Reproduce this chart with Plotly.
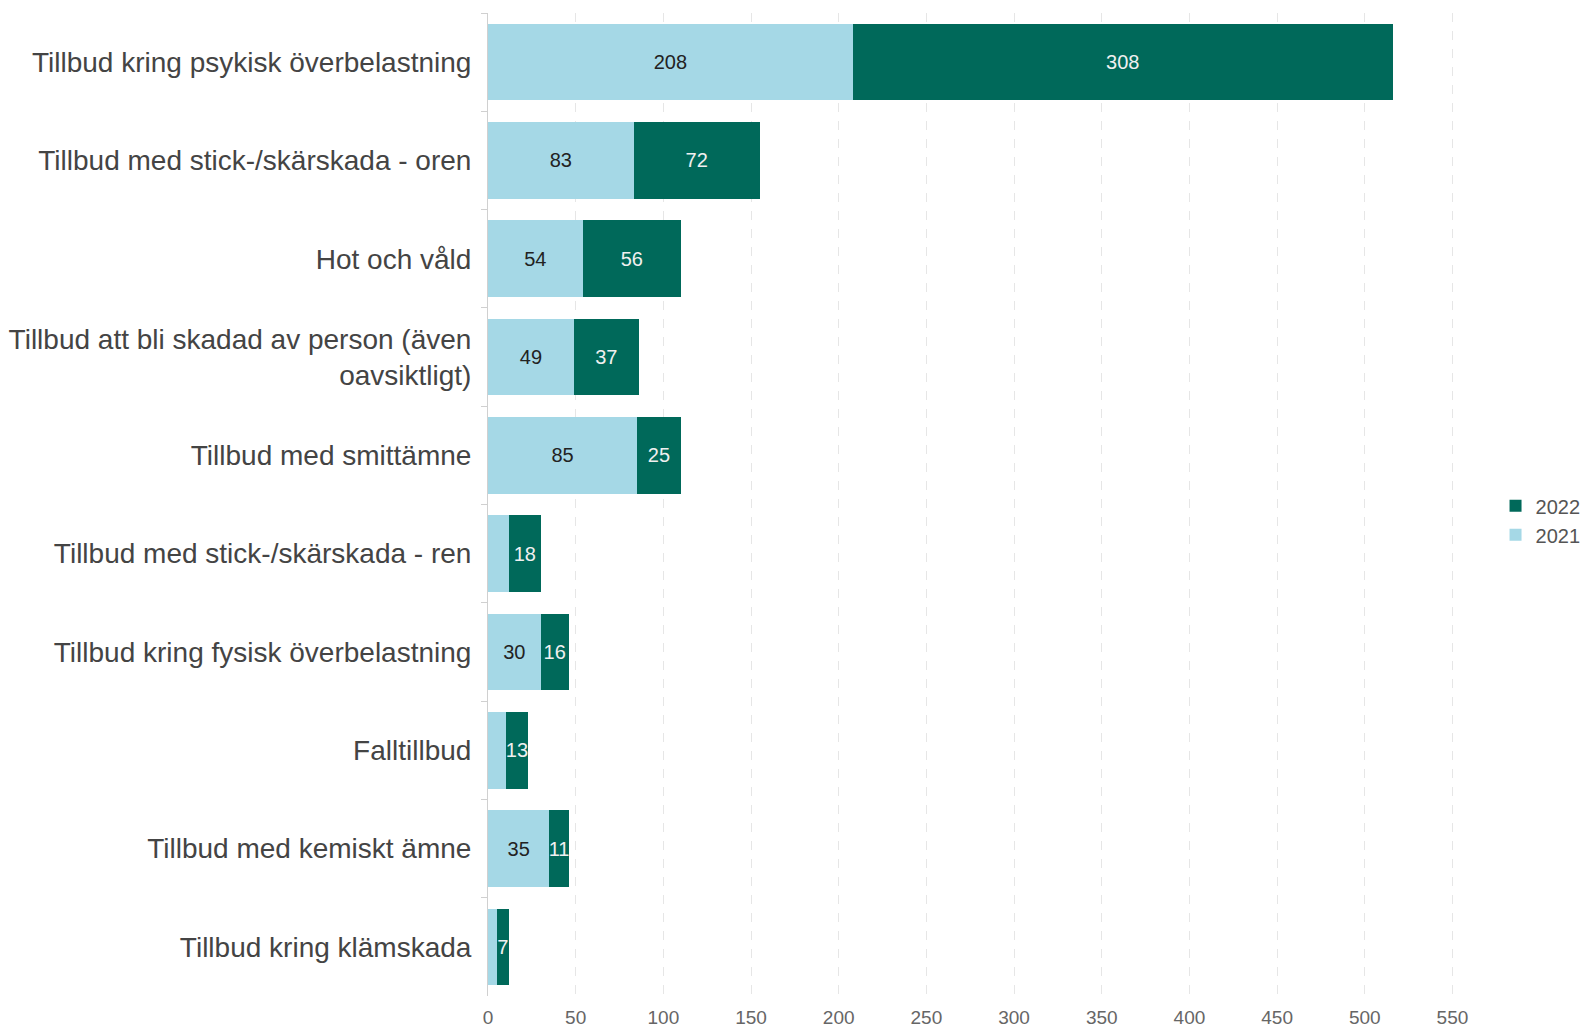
import plotly.graph_objects as go

categories = [
    "Tillbud kring psykisk överbelastning",
    "Tillbud med stick-/skärskada - oren",
    "Hot och våld",
    "Tillbud att bli skadad av person (även<br>oavsiktligt)",
    "Tillbud med smittämne",
    "Tillbud med stick-/skärskada - ren",
    "Tillbud kring fysisk överbelastning",
    "Falltillbud",
    "Tillbud med kemiskt ämne",
    "Tillbud kring klämskada",
]
values_2021 = [208, 83, 54, 49, 85, 12, 30, 10, 35, 5]
values_2022 = [308, 72, 56, 37, 25, 18, 16, 13, 11, 7]
x_ticks = [0, 50, 100, 150, 200, 250, 300, 350, 400, 450, 500, 550]

FONT = "Liberation Sans, Arial, sans-serif"
LIGHT = "#A5D8E6"
DARK = "#00695A"

text_2021 = [str(v) if v >= 20 else "" for v in values_2021]
text_2022 = [str(v) for v in values_2022]

fig = go.Figure()
fig.add_trace(go.Bar(
    y=categories, x=values_2021, name="2021", orientation="h",
    marker=dict(color=LIGHT, line=dict(width=0)),
    text=text_2021, textposition="inside", insidetextanchor="middle",
    textangle=0,
    textfont=dict(color="#222222", size=20, family=FONT),
    hoverinfo="x+y+name",
))
fig.add_trace(go.Bar(
    y=categories, x=values_2022, name="2022", orientation="h",
    marker=dict(color=DARK, line=dict(width=0)),
    text=text_2022, textposition="inside", insidetextanchor="middle",
    textangle=0,
    textfont=dict(color="#F0F0F0", size=20, family=FONT),
    hoverinfo="x+y+name",
))

fig.update_layout(
    width=1585, height=1027,
    barmode="stack", bargap=0.22,
    plot_bgcolor="white", paper_bgcolor="white",
    margin=dict(l=488, r=115, t=13, b=31, autoexpand=False),
    font=dict(family=FONT, color="#444444"),
    uniformtext=dict(minsize=20, mode="show"),
    showlegend=True,
    legend=dict(
        x=1.026, xanchor="left", y=0.484, yanchor="middle",
        traceorder="reversed",
        font=dict(size=20, color="#555555", family=FONT),
        bgcolor="rgba(0,0,0,0)",
    ),
    xaxis=dict(
        range=[0, 560], tickvals=x_ticks, ticktext=[str(t) for t in x_ticks],
        showgrid=True, gridcolor="#E6E6E6", griddash="dash", gridwidth=1,
        zeroline=False, showline=False, ticks="",
        ticklabelstandoff=8,
        tickfont=dict(size=19, color="#666666", family=FONT),
        automargin=False,
    ),
    yaxis=dict(
        categoryorder="array", categoryarray=categories,
        autorange="reversed",
        showgrid=False, zeroline=False,
        showline=True, linecolor="#D0D0D0", linewidth=1,
        ticks="outside", tickson="boundaries", ticklen=6, tickcolor="#D0D0D0",
        ticklabelstandoff=10,
        tickfont=dict(size=28, color="#444444", family=FONT),
        automargin=False,
    ),
)

fig.write_html(
    "out.html",
    config={"displayModeBar": False},
    post_script="document.body.style.margin='0';document.documentElement.style.overflow='hidden';",
)
